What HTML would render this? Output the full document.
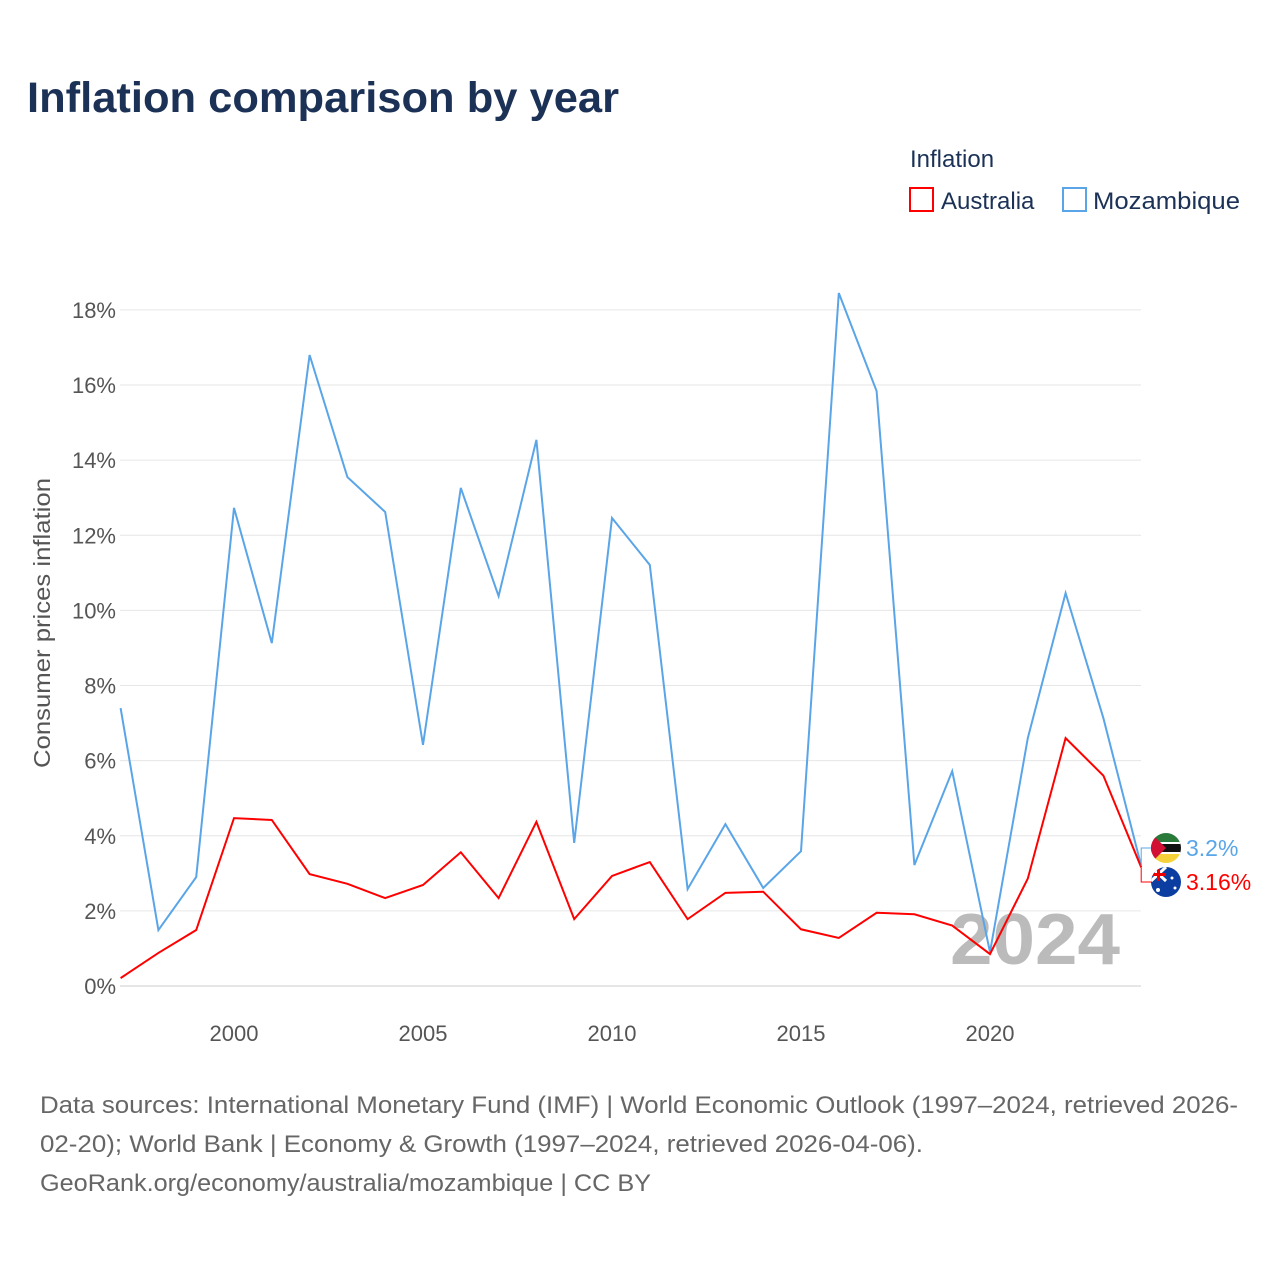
<!DOCTYPE html>
<html><head><meta charset="utf-8">
<style>
body{margin:0;background:#fff;width:1280px;height:1280px;overflow:hidden;font-family:"Liberation Sans",sans-serif;}
</style></head>
<body>
<svg width="1280" height="1280" xmlns="http://www.w3.org/2000/svg">
<text x="27" y="112" font-size="43" font-weight="bold" fill="#1b3156" textLength="592" lengthAdjust="spacingAndGlyphs">Inflation comparison by year</text>
<text x="910" y="167" font-size="24" fill="#1b3156">Inflation</text>
<g><rect x="910" y="188" width="23" height="23" fill="none" stroke="#f00" stroke-width="2"/><text x="941" y="209" font-size="24" fill="#1b3156">Australia</text></g>
<g><rect x="1063" y="188" width="23" height="23" fill="none" stroke="#5aa5e8" stroke-width="2"/><text x="1093" y="209" font-size="24" fill="#1b3156" textLength="147" lengthAdjust="spacingAndGlyphs">Mozambique</text></g>
<g id="grid"></g><g id="yt"></g><g id="xt"></g>
<text transform="translate(50,623) rotate(-90)" text-anchor="middle" font-size="23" fill="#555" textLength="290" lengthAdjust="spacingAndGlyphs">Consumer prices inflation</text>
<text x="1120" y="964" text-anchor="end" font-size="72" font-weight="bold" fill="#bbb" textLength="170" lengthAdjust="spacingAndGlyphs">2024</text>
<g id="series"></g>
<g id="ends"></g>
<g font-size="24" fill="#666"><text x="40" y="1113" textLength="1198" lengthAdjust="spacingAndGlyphs">Data sources: International Monetary Fund (IMF) | World Economic Outlook (1997–2024, retrieved 2026-</text><text x="40" y="1152" textLength="883" lengthAdjust="spacingAndGlyphs">02-20); World Bank | Economy &amp; Growth (1997–2024, retrieved 2026-04-06).</text><text x="40" y="1191" textLength="611" lengthAdjust="spacingAndGlyphs">GeoRank.org/economy/australia/mozambique | CC BY</text></g>
</svg>
<script>
const years=[1997,1998,1999,2000,2001,2002,2003,2004,2005,2006,2007,2008,2009,2010,2011,2012,2013,2014,2015,2016,2017,2018,2019,2020,2021,2022,2023,2024];
const mozambique=[7.4,1.49,2.9,12.73,9.13,16.8,13.55,12.62,6.42,13.26,10.38,14.54,3.81,12.46,11.21,2.58,4.31,2.61,3.59,18.45,15.84,3.22,5.72,0.9,6.6,10.46,7.13,3.2];
const australia=[0.21,0.88,1.49,4.47,4.42,2.98,2.72,2.34,2.69,3.56,2.34,4.37,1.78,2.93,3.3,1.78,2.48,2.51,1.51,1.28,1.95,1.91,1.61,0.85,2.86,6.6,5.6,3.16];
const yTicks=[0,2,4,6,8,10,12,14,16,18];
const xTicks=[2000,2005,2010,2015,2020];
const NS="http://www.w3.org/2000/svg";
const X=y=>120.6+(y-1997)*37.8;
const Y=v=>986-v*37.56;
function mk(tag,attrs,parent){const e=document.createElementNS(NS,tag);for(const k in attrs)e.setAttribute(k,attrs[k]);document.getElementById(parent).appendChild(e);return e;}
yTicks.forEach(t=>{
 const l=mk('line',{x1:120,x2:1141,y1:Y(t),y2:Y(t),stroke:t===0?'#ccc':'#e6e6e6','stroke-width':1},'grid');
 
 
 const tx=mk('text',{x:116,y:Y(t)+8,'text-anchor':'end','font-size':22,fill:'#555'},'yt');tx.textContent=t+'%';
 
 
});
xTicks.forEach(t=>{
 const tx=mk('text',{x:X(t),y:1041,'text-anchor':'middle','font-size':22,fill:'#555'},'xt');tx.textContent=t;
 
 
});
function line(vals,color,name){
 const p=mk('polyline',{points:vals.map((v,i)=>X(years[i])+','+Y(v)).join(' '),fill:'none',stroke:color,'stroke-width':2,'stroke-linejoin':'miter'},'series');
 
 
}
line(mozambique,'#5aa5e8','mozambique-line');
line(australia,'#f00','australia-line');
const last=years.length-1;
function end(v,ly,color,label,name,flag){
 const x0=X(years[last]);
 const c=mk('polyline',{points:`${x0},${Y(v)} ${x0},${ly} ${x0+12},${ly}`,fill:'none',stroke:color,'stroke-width':1},'ends');
 
 
 const g=mk('g',{},'ends');
 
 
 g.innerHTML=flag;
 const t=mk('text',{x:1186,y:ly+8,'font-size':23,fill:color},'ends');t.textContent=label;
 
 
}
end(mozambique[last],848,'#5aa5e8',mozambique[last]+'%','mozambique',
 '<clipPath id="cm"><circle cx="1166" cy="848" r="15"/></clipPath><g clip-path="url(#cm)"><rect x="1150" y="833" width="32" height="10" fill="#2a7a3a"/><rect x="1150" y="843" width="32" height="10" fill="#111"/><rect x="1150" y="853" width="32" height="10" fill="#f5d23a"/><rect x="1150" y="842" width="32" height="2" fill="#fff"/><rect x="1150" y="852" width="32" height="2" fill="#fff"/><polygon points="1151,833 1166,848 1151,863" fill="#d21034"/></g>');
end(australia[last],882,'#f00',australia[last]+'%','australia',
 '<clipPath id="ca"><circle cx="1166" cy="882" r="15"/></clipPath><g clip-path="url(#ca)"><rect x="1150" y="867" width="32" height="32" fill="#0b3ea0"/><line x1="1151" y1="867" x2="1166" y2="881" stroke="#fff" stroke-width="3"/><line x1="1166" y1="867" x2="1151" y2="881" stroke="#fff" stroke-width="3"/><rect x="1157" y="867" width="3" height="14" fill="#e00"/><rect x="1151" y="873" width="15" height="3" fill="#e00"/><circle cx="1158" cy="890" r="2" fill="#fff"/><circle cx="1172" cy="878" r="1.5" fill="#fff"/><circle cx="1175" cy="888" r="1.5" fill="#fff"/></g>');
</script>
</body></html>
